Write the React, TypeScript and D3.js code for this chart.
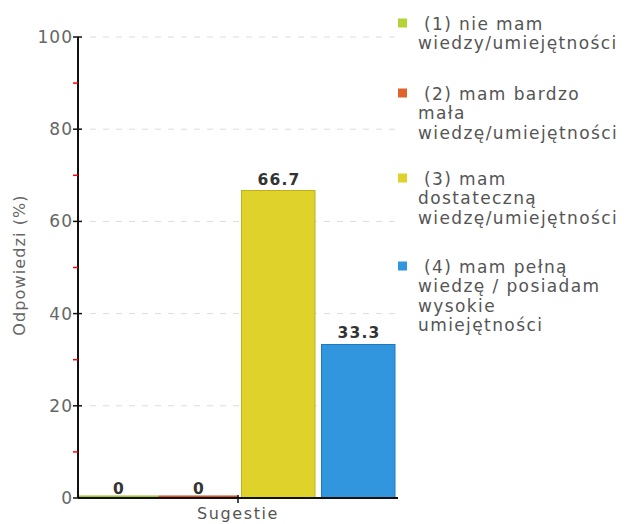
import React from "react";
import * as d3 from "d3";

const categories = ["Sugestie"];
const seriesNames = [
  ["(1) nie mam", "wiedzy/umiejętności"],
  ["(2) mam bardzo", "mała", "wiedzę/umiejętności"],
  ["(3) mam", "dostateczną", "wiedzę/umiejętności"],
  ["(4) mam pełną", "wiedzę / posiadam", "wysokie", "umiejętności"],
];
const values = [0, 0, 66.7, 33.3];
const valueLabels = ["0", "0", "66.7", "33.3"];
const yTicks = [0, 20, 40, 60, 80, 100];
const yMinorTicks = [10, 30, 50, 70, 90];
const colors = ["#b4d334", "#e0622d", "#dfd32b", "#3296de"];
const strokes = ["#9ab525", "#c34c1c", "#bdb21b", "#1f78bd"];

const FONT = "'DejaVu Sans', Verdana, sans-serif";

export default function App() {
  const W = 624, H = 524;
  const x0 = 78, x1 = 398, yTop = 37, yBot = 498;
  const y = d3.scaleLinear().domain([0, 100]).range([yBot, yTop]);
  const xCat = d3.scaleBand().domain(categories).range([x0, x1]);
  const xSeries = d3.scaleBand().domain(d3.range(values.length).map(String)).range([0, xCat.bandwidth()]);
  const bw = xSeries.bandwidth();
  const lineH = 19.3;
  const legendStarts = [30, 100, 185, 273];

  return (
    <svg width={W} height={H} style={{ position: "absolute", left: 0, top: 0, background: "#fff" }} fontFamily={FONT}>
      {/* gridlines */}
      {yTicks.filter((t) => t > 0).map((t) => (
        <line key={"g" + t} x1={90} x2={400} y1={y(t)} y2={y(t)} stroke="#dcdcdc" strokeWidth={1} strokeDasharray="6,7" />
      ))}
      {/* bars */}
      {values.map((v, i) => {
        const bx = (xCat("Sugestie") as number) + (xSeries(String(i)) as number);
        const left = bx + 3.5;
        const right = bx + bw - 3;
        const top = Math.min(y(v), yBot - 2);
        return (
          <g key={"b" + i}>
            <rect x={v === 0 ? bx + 1 : left} y={top} width={v === 0 ? bw - 1 : right - left} height={yBot - top}
              fill={colors[i]} stroke={strokes[i]} strokeWidth={1} />
            <text x={bx + bw / 2 + 1} y={y(v) - (v === 0 ? 4 : 6)} textAnchor="middle" fontSize={15.5}
              fontWeight="bold" letterSpacing={1.2} fill="#333">
              {valueLabels[i]}
            </text>
          </g>
        );
      })}
      {/* axes */}
      <line x1={x0} x2={x0} y1={yTop} y2={yBot} stroke="#111" strokeWidth={2} />
      <line x1={x0} x2={x1} y1={yBot} y2={yBot} stroke="#111" strokeWidth={2} />
      {yTicks.map((t) => (
        <g key={"t" + t}>
          <line x1={x0 - 5} x2={x0 + 4} y1={y(t)} y2={y(t)} stroke="#111" strokeWidth={1.5} />
          <text x={x0 - 5} y={y(t) + 6} textAnchor="end" fontSize={17} letterSpacing={1} fill="#666">{t}</text>
        </g>
      ))}
      {yMinorTicks.map((t) => (
        <line key={"m" + t} x1={x0 - 5} x2={x0} y1={y(t)} y2={y(t)} stroke="#ff0000" strokeWidth={1.5} />
      ))}
      {categories.map((c) => {
        const cx = (xCat(c) as number) + xCat.bandwidth() / 2;
        return (
          <g key={c}>
            <line x1={cx} x2={cx} y1={yBot - 3} y2={yBot + 5} stroke="#111" strokeWidth={1.5} />
            <text x={cx} y={yBot + 21} textAnchor="middle" fontSize={16} letterSpacing={1.6} fill="#555">{c}</text>
          </g>
        );
      })}
      <text transform={`translate(25, ${265}) rotate(-90)`} textAnchor="middle" fontSize={16} letterSpacing={1.1} fill="#666">
        Odpowiedzi (%)
      </text>
      {/* legend */}
      {seriesNames.map((lines, i) => (
        <g key={"l" + i}>
          <rect x={398} y={legendStarts[i] - 11.5} width={9} height={9} fill={colors[i]} />
          {lines.map((ln, j) => (
            <text key={j} x={j === 0 ? 424 : 418} y={legendStarts[i] + j * lineH} fontSize={17} letterSpacing={1.4}
              fill="#555">{ln}</text>
          ))}
        </g>
      ))}
    </svg>
  );
}
